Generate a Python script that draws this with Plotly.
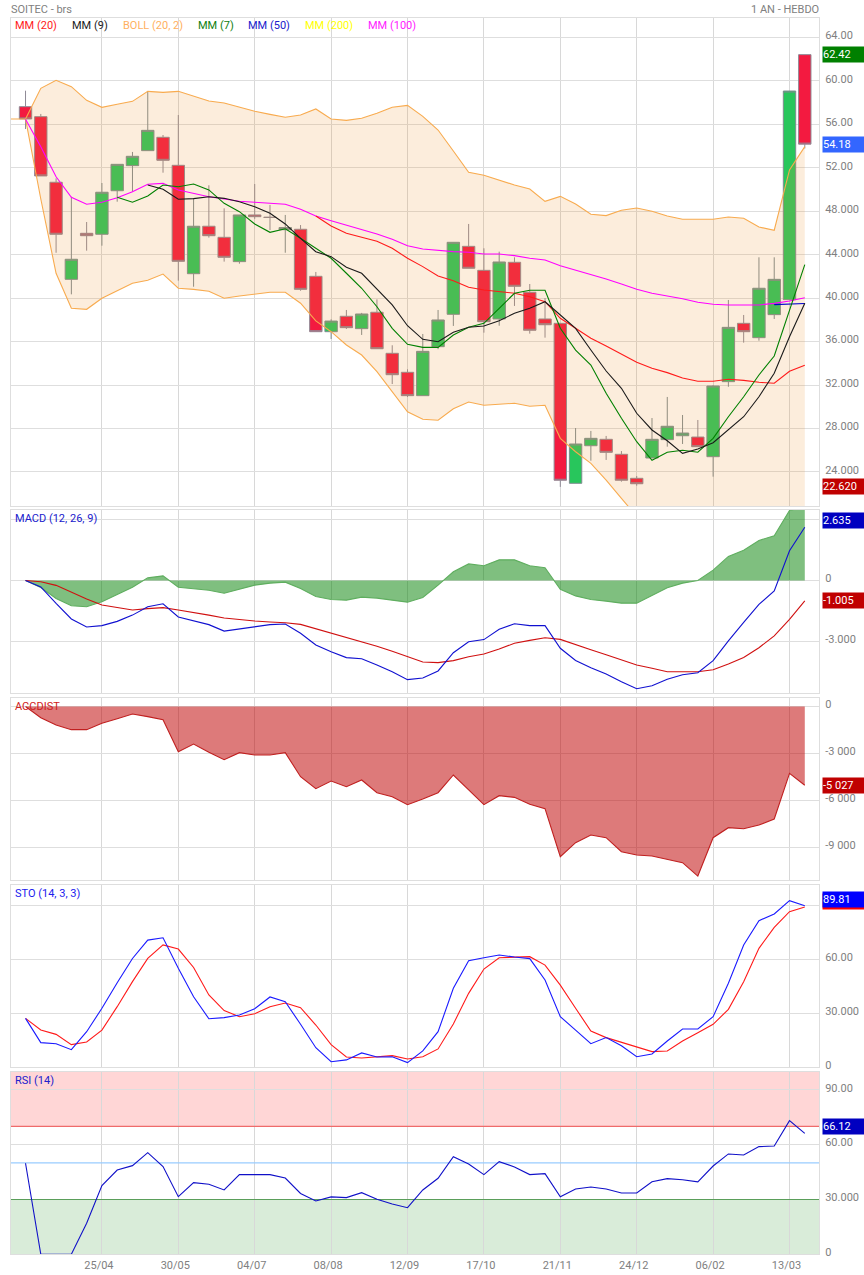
import plotly.graph_objects as go

# weekly candles
weeks = list(range(52))
opens = [57.63, 56.71, 50.67, 41.73, 45.97, 45.88, 49.89, 52.20, 53.58, 54.81, 52.23, 42.25, 46.62,
         45.60, 43.36, 47.66, 47.45, 46.30, 46.34, 42.01, 36.91, 38.33, 37.19, 38.70, 34.92, 33.17,
         31.02, 35.53, 38.51, 44.77, 42.56, 38.08, 43.30, 40.54, 38.08, 37.68, 22.95, 26.41, 27.00,
         25.62, 23.41, 25.28, 26.97, 27.33, 27.21, 25.40, 32.31, 37.68, 36.36, 38.48, 39.86, 62.42]
highs = [59.10, 56.96, 51.03, 49.34, 47.01, 50.60, 52.32, 53.46, 59.01, 55.02, 56.86, 49.19, 50.39,
         48.27, 47.66, 50.51, 48.58, 47.66, 46.73, 42.41, 38.05, 38.91, 38.64, 39.89, 35.66, 33.45,
         36.70, 38.91, 45.14, 46.83, 44.59, 44.28, 43.76, 41.30, 40.01, 37.68, 28.04, 27.77, 27.31,
         25.92, 23.62, 28.96, 30.90, 29.24, 28.78, 32.00, 39.83, 38.45, 43.76, 43.76, 59.07, 62.42]
lows = [55.57, 51.25, 44.18, 40.35, 44.37, 44.83, 48.88, 49.80, 53.58, 51.55, 41.61, 41.05, 45.57,
        43.36, 43.17, 47.30, 46.27, 44.18, 40.68, 36.91, 36.24, 37.16, 36.61, 35.34, 32.09, 30.90,
        31.02, 35.30, 37.44, 42.75, 36.82, 37.46, 39.28, 36.73, 36.36, 22.62, 22.95, 25.03, 25.10,
        23.10, 22.73, 25.28, 26.32, 26.57, 26.32, 23.56, 31.84, 35.90, 36.08, 38.08, 39.86, 53.78]
closes = [56.50, 51.25, 45.88, 43.58, 45.75, 49.75, 52.32, 53.06, 55.45, 52.69, 43.39, 46.62, 45.75,
          43.76, 47.66, 47.50, 47.43, 46.50, 40.81, 36.91, 37.89, 37.28, 38.54, 35.34, 32.95, 31.02,
          35.10, 37.99, 45.14, 42.75, 37.83, 43.33, 41.09, 37.04, 37.55, 23.23, 26.57, 27.09, 25.80,
          23.23, 22.91, 27.00, 28.20, 27.58, 26.32, 31.91, 37.31, 36.91, 40.91, 41.73, 59.07, 54.18]

boll_upper = [56.50, 59.32, 60.06, 59.47, 58.21, 57.57, 57.85, 58.12, 59.04, 58.95, 59.04, 58.58, 58.15,
              57.97, 57.57, 57.20, 56.92, 56.65, 56.86, 57.42, 56.50, 56.37, 56.56, 57.02, 57.57, 57.75,
              56.74, 55.48, 53.55, 51.58, 51.31, 50.85, 50.42, 50.05, 48.91, 49.37, 48.67, 47.72, 47.60,
              48.09, 48.30, 48.00, 47.56, 47.26, 47.26, 47.26, 47.47, 47.35, 46.55, 46.25, 51.80, 53.95]
boll_lower = [56.50, 49.13, 42.29, 39.07, 38.97, 39.99, 40.69, 41.37, 41.64, 42.22, 40.91, 40.81, 40.63,
              39.99, 40.20, 40.38, 40.54, 40.54, 39.53, 37.90, 36.91, 35.69, 34.76, 33.23, 31.38, 29.54,
              28.84, 28.75, 29.82, 30.44, 30.13, 30.22, 30.32, 30.04, 30.13, 27.09, 25.86, 24.79, 23.25,
              21.57, 19.90, 19.10, 18.90, 18.70, 18.80, 19.00, 19.20, 19.40, 19.80, 20.10, 19.20, 18.40]
mm20 = [47.56, 46.64, 45.97, 45.60, 45.23, 44.59, 43.67, 42.90, 42.04, 41.61, 41.00, 40.75, 40.59, 40.45,
        40.13, 39.67, 38.14, 37.22, 36.30, 35.59, 34.86, 34.09, 33.54, 33.14, 32.65, 32.34, 32.34, 32.53,
        32.43, 32.25, 32.16, 33.26, 33.82]
mm9 = [50.42, 50.02, 49.10, 49.16, 49.34, 49.19, 48.88, 48.42, 47.81, 46.83, 45.51, 44.28, 43.82, 42.84,
       42.29, 40.81, 39.37, 37.46, 36.21, 35.99, 36.85, 37.32, 37.43, 37.92, 38.60, 39.06, 39.67, 38.45,
       37.22, 35.22, 33.29, 31.70, 29.40, 27.86, 26.87, 25.71, 26.11, 26.69, 27.86, 29.08, 30.92, 33.08,
       36.45, 39.52]
mm7 = [49.29, 48.83, 49.41, 50.42, 50.26, 50.51, 49.96, 48.73, 47.96, 46.83, 46.06, 46.39, 45.51, 44.59,
       43.67, 42.29, 40.91, 39.21, 37.22, 35.75, 35.47, 35.47, 36.61, 37.32, 37.68, 39.06, 40.45, 40.72,
       40.72, 37.22, 35.22, 33.84, 31.24, 28.94, 26.78, 25.07, 25.81, 25.99, 25.81, 27.09, 29.08, 30.92,
       32.92, 34.67, 38.91, 43.08]
mm50 = [39.40, 39.45, 39.50]
mm100 = [56.47, 53.94, 51.18, 49.29, 48.64, 48.83, 49.25, 49.80, 50.48, 50.57, 49.96, 49.65, 49.34, 49.13,
         48.92, 48.83, 48.73, 48.64, 48.18, 47.56, 47.13, 46.73, 46.27, 45.91, 45.42, 44.83, 44.52, 44.37,
         44.28, 44.22, 44.06, 44.06, 43.91, 43.67, 43.51, 42.98, 42.59, 42.20, 41.76, 41.30, 40.81, 40.45,
         40.22, 39.95, 39.62, 39.43, 39.37, 39.34, 39.37, 39.52, 39.74, 40.04]

macd = [0, -0.32, -1.13, -1.90, -2.30, -2.23, -2.02, -1.71, -1.30, -1.15, -1.80, -1.99, -2.18, -2.50, -2.40,
        -2.30, -2.18, -2.15, -2.61, -3.19, -3.52, -3.81, -3.87, -4.18, -4.51, -4.90, -4.82, -4.47, -3.57,
        -3.03, -2.92, -2.41, -2.14, -2.23, -2.23, -3.35, -3.95, -4.31, -4.62, -5.00, -5.35, -5.20, -4.88,
        -4.66, -4.56, -3.96, -2.98, -2.07, -1.18, -0.52, 1.47, 2.635]
macd_signal = [0, -0.06, -0.24, -0.58, -0.91, -1.21, -1.34, -1.46, -1.39, -1.34, -1.46, -1.57, -1.71, -1.85,
               -1.94, -2.00, -2.05, -2.09, -2.17, -2.38, -2.60, -2.83, -3.01, -3.25, -3.50, -3.77, -4.03,
               -4.06, -3.96, -3.77, -3.63, -3.39, -3.10, -2.96, -2.83, -2.91, -3.15, -3.42, -3.67, -3.93,
               -4.18, -4.34, -4.51, -4.51, -4.51, -4.41, -4.13, -3.80, -3.32, -2.74, -1.92, -1.005]
macd_hist = [0, -0.35, -0.89, -1.25, -1.30, -1.05, -0.69, -0.33, 0.13, 0.23, -0.33, -0.41, -0.48, -0.63, -0.43,
             -0.23, -0.13, -0.08, -0.40, -0.79, -0.94, -0.97, -0.82, -0.87, -0.97, -1.07, -0.84, -0.23, 0.43,
             0.82, 0.73, 1.02, 1.02, 0.73, 0.63, -0.43, -0.76, -0.94, -1.02, -1.12, -1.12, -0.76, -0.36, -0.13,
             0, 0.51, 1.19, 1.50, 1.98, 2.21, 3.46, 3.64]

accdist = [0, -713, -1181, -1479, -1479, -1075, -777, -479, -649, -841, -2884, -2394, -2926, -3394, -2947,
           -3096, -3096, -2947, -4480, -5246, -4756, -5118, -4692, -5501, -5756, -6267, -5905, -5501, -4373,
           -5288, -6267, -5693, -5799, -6246, -6522, -9587, -8693, -8204, -8374, -9268, -9480, -9544, -9757,
           -9970, -10821, -8374, -7735, -7799, -7565, -7182, -4267, -5027]

sto_k = [27.2, 13.7, 13.1, 9.8, 19.8, 32.8, 47.0, 60.5, 70.7, 72.0, 55.0, 39.2, 27.0, 27.6, 29.1, 32.6, 39.1,
         36.5, 23.9, 10.9, 3.1, 4.1, 8.0, 5.7, 5.9, 2.6, 9.1, 19.8, 43.9, 59.2, 60.9, 62.4, 61.3, 60.4, 48.5,
         28.1, 20.7, 13.1, 16.5, 12.0, 5.9, 7.4, 14.6, 21.3, 21.3, 28.1, 46.7, 68.0, 81.5, 85.2, 92.6, 89.81]
sto_d = [27.2, 20.7, 18.3, 12.6, 14.1, 20.7, 33.7, 47.6, 60.5, 68.0, 65.7, 55.5, 40.2, 31.5, 28.1, 29.8, 33.7,
         35.7, 33.1, 23.5, 12.6, 5.7, 5.2, 5.9, 6.5, 4.6, 5.9, 10.2, 24.1, 41.1, 54.6, 60.9, 61.3, 61.5, 56.8,
         45.7, 32.8, 20.2, 16.5, 13.9, 11.5, 8.7, 9.1, 14.6, 19.2, 23.9, 32.2, 47.6, 66.1, 77.8, 86.5, 89.1]
rsi = [49.8, 0, 0, 0, 17.0, 37.6, 46.1, 48.5, 55.6, 48.0, 31.5, 39.2, 38.3, 35.2, 43.6, 43.6, 43.6, 41.7, 33.3,
       29.2, 31.4, 31.0, 33.7, 30.1, 27.5, 25.5, 35.2, 41.6, 53.4, 49.4, 43.6, 50.7, 47.8, 43.6, 44.1, 31.5,
       35.7, 36.8, 35.7, 33.5, 33.5, 39.7, 41.4, 40.8, 39.6, 48.3, 54.9, 54.3, 58.9, 59.2, 73.1, 66.12]
rsi_levels = [70, 50, 30]

date_pos = [5, 10, 15, 20, 25, 30, 35, 40, 45, 50]
date_labels = ["25/04", "30/05", "04/07", "08/08", "12/09", "17/10", "21/11", "24/12", "06/02", "13/03"]

price_ticks = [64, 60, 56, 52, 48, 44, 40, 36, 32, 28, 24]
price_labels = ["64.00", "60.00", "56.00", "52.00", "48.000", "44.000", "40.000", "36.000", "32.000", "28.000", "24.000"]
# the top ticks of MACD and STO sit behind the value badges, so they carry no text
macd_ticks = [3, 0, -3]
macd_labels = ["", "0", "-3.000"]
acc_ticks = [0, -3000, -6000, -9000]
acc_labels = ["0", "-3 000", "-6 000", "-9 000"]
sto_ticks = [90, 60, 30, 0]
sto_labels = ["", "60.00", "30.000", "0"]
rsi_ticks = [90, 60, 30, 0]
rsi_labels = ["90.00", "60.00", "30.000", "0"]

W, H = 864, 1275
LEFT, RIGHT = 10.5, 819
GRID = "#dedede"
FONT = "Roboto"
XMIN, XMAX = -0.95, 51.93


def px(x):
    return (x - LEFT) / (RIGHT - LEFT)


def py(y):
    return 1 - y / H


def line(x, y, color, yaxis="y", xaxis="x", **kw):
    return go.Scatter(x=x, y=y, mode="lines", line=dict(color=color, width=1.1), xaxis=xaxis, yaxis=yaxis,
                      hoverinfo="skip", showlegend=False, **kw)


fig = go.Figure()

fig.add_trace(go.Candlestick(
    x=weeks, open=opens, high=highs, low=lows, close=closes, whiskerwidth=0,
    increasing=dict(fillcolor="#28c65c", line=dict(color="#7f8c90", width=1)),
    decreasing=dict(fillcolor="#f31a40", line=dict(color="#8f8a96", width=1)),
    showlegend=False))

# the band sits on top of the candles, they show through it
boll_color = "#f8ab4f"
fig.add_trace(line([XMIN, 0], [boll_upper[0], boll_upper[0]], boll_color))
fig.add_trace(line(weeks, boll_lower, boll_color))
fig.add_trace(line(weeks, boll_upper, boll_color, fill="tonexty", fillcolor="rgba(240,150,45,0.17)"))
fig.add_trace(line(weeks[-len(mm100):], mm100, "#ff00ff"))
fig.add_trace(line(weeks[-len(mm50):], mm50, "#0000cc"))
fig.add_trace(line(weeks[-len(mm20):], mm20, "#ff1a1a"))
fig.add_trace(line(weeks[-len(mm7):], mm7, "#008000"))
fig.add_trace(line(weeks[-len(mm9):], mm9, "#1a1a1a"))

fig.add_trace(line(weeks, macd_hist, "#5fae5f", yaxis="y2", xaxis="x2", fill="tozeroy", fillcolor="rgba(0,128,0,0.5)"))
fig.add_trace(line(weeks, macd_signal, "#d01010", yaxis="y2", xaxis="x2"))
fig.add_trace(line(weeks, macd, "#1010d0", yaxis="y2", xaxis="x2"))

fig.add_trace(line(weeks, accdist, "#c02020", yaxis="y3", xaxis="x3", fill="tozeroy", fillcolor="rgba(190,0,0,0.52)"))

fig.add_trace(line(weeks, sto_d, "#ff1a1a", yaxis="y4", xaxis="x4"))
fig.add_trace(line(weeks, sto_k, "#1a1aff", yaxis="y4", xaxis="x4"))

for level, color in zip(rsi_levels, ["#ef6b6b", "#99ccff", "#5a9e5a"]):
    fig.add_trace(line([XMIN, XMAX], [level, level], color, yaxis="y5", xaxis="x5"))
fig.add_trace(line(weeks, rsi, "#1010c8", yaxis="y5", xaxis="x5"))

# panels: pixel top, pixel bottom, y range, ticks
panels = [
    (17.5, 506, [20.86, 65.84], price_ticks, price_labels),
    (510, 693, [-5.56, 3.485], macd_ticks, macd_labels),
    (698, 880, [-11074, 542], acc_ticks, acc_labels),
    (884.5, 1067.3, [0, 101.6], sto_ticks, sto_labels),
    (1071.5, 1254.3, [0, 100], rsi_ticks, rsi_labels),
]
axes = {}
for i, (top, bottom, yrange, ticks, labels) in enumerate(panels):
    n = "" if i == 0 else str(i + 1)
    axes["yaxis" + n] = dict(
        domain=[py(bottom), py(top)], range=yrange, side="right", anchor="x" + n, tickvals=ticks, ticktext=labels,
        gridcolor=GRID, gridwidth=1, zeroline=False, showline=True, linecolor=GRID, mirror=True, ticks="",
        automargin=False, tickfont=dict(family=FONT, size=11, color="#808080"), ticklabelstandoff=3, ticklabelshift=-2)
    axes["xaxis" + n] = dict(
        domain=[0, 1], range=[XMIN, XMAX], anchor="y" + n, tickvals=date_pos, ticktext=date_labels,
        showticklabels=i == 4, gridcolor="#d8d8d8", gridwidth=1, zeroline=False, showline=True, linecolor=GRID,
        mirror=True, ticks="", rangeslider=dict(visible=False), automargin=False,
        tickfont=dict(family=FONT, size=11, color="#808080"), ticklabelshift=-3)
fig.update_layout(**axes)

annots = []


def label(text, x, y, color, anchor="left"):
    annots.append(dict(text=text, xref="paper", yref="paper", x=px(x), y=py(y), xanchor=anchor, yanchor="middle",
                       showarrow=False, borderpad=0, font=dict(family=FONT, size=11, color=color)))


def badge(text, value, yref, color, yshift=0):
    annots.append(dict(text=text, xref="paper", yref=yref, x=px(822), y=value, xanchor="left", yanchor="middle",
                       yshift=yshift, width=42, height=15, align="left", showarrow=False, bgcolor=color, borderpad=0,
                       font=dict(family=FONT, size=11, color="white")))


label("SOITEC - brs", 9, 9, "#808080")
label("1 AN - HEBDO", 820, 9, "#808080", anchor="right")
label("MM (20)", 14, 25, "#ff1a1a")
label("MM (9)", 71, 25, "#1a1a1a")
label("BOLL (20, 2)", 122, 25, "#ffb060")
label("MM (7)", 197, 25, "#108010")
label("MM (50)", 247, 25, "#2020cc")
label("MM (200)", 304, 25, "#ffff00")
label("MM (100)", 367, 25, "#ff20ff")
label("MACD (12, 26, 9)", 14, 519, "#2020cc")
label("ACCDIST", 14, 706, "#d02020")
label("STO (14, 3, 3)", 14, 893, "#2020ee")
label("RSI (14)", 14, 1080, "#2020cc")

badge("62.42", highs[-1], "y", "#008000")
badge("54.18", closes[-1], "y", "#3366ff")
badge("22.620", min(lows), "y", "#c00000")
badge("2.635", macd[-1], "y2", "#0000c0", yshift=7)
badge("-1.005", macd_signal[-1], "y2", "#c00000")
badge("-5 027", accdist[-1], "y3", "#c00000")
badge("", sto_d[-1], "y4", "#ff0000", yshift=5)
badge("89.81", sto_k[-1], "y4", "#0000ff", yshift=6)
badge("66.12", rsi[-1], "y5", "#0000c0", yshift=7)

fig.add_shape(type="rect", xref="x5", yref="y5", x0=XMIN, x1=XMAX, y0=70, y1=100, layer="below",
              fillcolor="rgba(255,0,0,0.16)", line_width=0)
fig.add_shape(type="rect", xref="x5", yref="y5", x0=XMIN, x1=XMAX, y0=0, y1=30, layer="below",
              fillcolor="rgba(0,128,0,0.15)", line_width=0)

fig.update_layout(width=W, height=H, autosize=False, margin=dict(l=LEFT, r=W - RIGHT, t=0, b=0, pad=0),
                  paper_bgcolor="white", plot_bgcolor="white", showlegend=False, boxgap=0.19, boxgroupgap=0,
                  annotations=annots, font=dict(family=FONT))

fig.write_html("out.html", config=dict(displayModeBar=False), post_script="document.body.style.margin='0';")
